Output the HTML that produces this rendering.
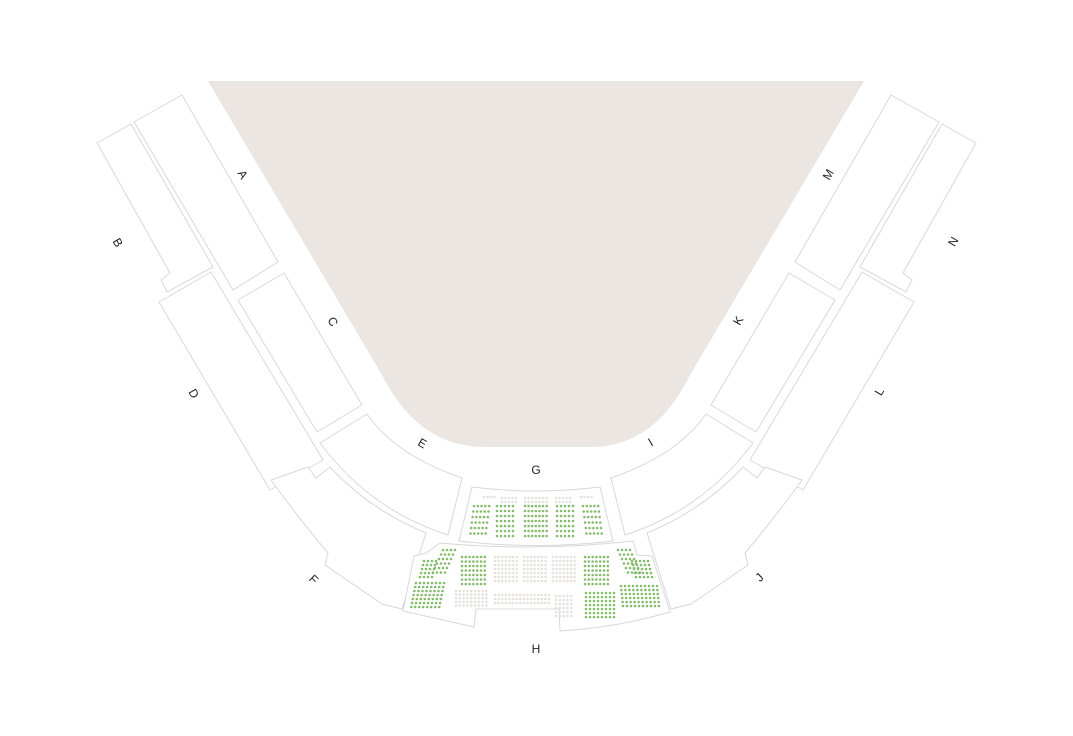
<!DOCTYPE html>
<html><head><meta charset="utf-8"><style>
html,body{margin:0;padding:0;background:#fff;}
svg{display:block}
text{font-family:"Liberation Sans",sans-serif;font-size:12px;fill:#222;text-anchor:middle;dominant-baseline:middle}
.s{fill:#fff;stroke:#d8d8d8;stroke-width:1}
</style></head><body>
<svg id="m" width="1073" height="736" viewBox="0 0 1073 736" xmlns="http://www.w3.org/2000/svg">
<path d="M208,81 L864,81 L690,375 Q655,447 590,447 L485,447 Q418,447 382,375 Z" fill="#ebe6e2"/>
<g id="L">
<polygon class="s" points="134,122 182,95 278,262 233,290"/>
<polygon class="s" points="97,143 131,124 213,267 167,292 161,280 170,273"/>
<polygon class="s" points="238,300 284,273 362,405 317,432"/>
<polygon class="s" points="159,302 211,272 323,460 270,490"/>
<path class="s" d="M320,443 L367,414 Q395,455 462,478 L448,535 Q370,510 320,443 Z"/>
<path class="s" d="M271,480 L308,467 L316,478 L330,467 Q370,510 426,533 L402,609 L382,604 L325,565 L328,553 Q300,520 271,480 Z"/>
</g>
<g transform="translate(1073,0) scale(-1,1)">
<polygon class="s" points="134,122 182,95 278,262 233,290"/>
<polygon class="s" points="97,143 131,124 213,267 167,292 161,280 170,273"/>
<polygon class="s" points="238,300 284,273 362,405 317,432"/>
<polygon class="s" points="159,302 211,272 323,460 270,490"/>
<path class="s" d="M320,443 L367,414 Q395,455 462,478 L448,535 Q370,510 320,443 Z"/>
<path class="s" d="M271,480 L308,467 L316,478 L330,467 Q370,510 426,533 L402,609 L382,604 L325,565 L328,553 Q300,520 271,480 Z"/>
</g>
<path class="s" d="M472,487 Q536,495 600,487 L613,541 Q536,550 459,541 Z"/>
<path class="s" d="M440,543 Q536,552 633,541 L637,555 L652,556 L670,612 Q615,628 560,631 L559,609 L476,609 L474,627 L403,611 L414,556 L426,553 Z"/>
<g id="dots"></g>
<text x="242" y="175" transform="rotate(60 242 175)">A</text>
<text x="117" y="243" transform="rotate(60 117 243)">B</text>
<text x="332" y="322" transform="rotate(60 332 322)">C</text>
<text x="193" y="394" transform="rotate(60 193 394)">D</text>
<text x="422" y="444" transform="rotate(30 422 444)">E</text>
<text x="313" y="580" transform="rotate(45 313 580)">F</text>
<text x="536" y="471">G</text>
<text x="536" y="650">H</text>
<text x="651" y="443" transform="rotate(-30 651 443)">I</text>
<text x="760" y="578" transform="rotate(-45 760 578)">J</text>
<text x="739" y="321" transform="rotate(-60 739 321)">K</text>
<text x="880" y="392" transform="rotate(-60 880 392)">L</text>
<text x="829" y="175" transform="rotate(-60 829 175)">M</text>
<text x="954" y="242" transform="rotate(-60 954 242)">N</text>
</svg>
<script>
var g=document.getElementById('dots'),h='';
function blk(x0,y0,cols,rows,dx,dy,col,sk){for(var r=0;r<rows;r++)for(var c=0;c<cols;c++){var x=x0+c*dx+r*(sk||0),y=y0+r*dy;h+='<circle cx="'+x.toFixed(1)+'" cy="'+y.toFixed(1)+'" r="1.3" fill="'+col+'"/>';}}
var G='#86bb6c',E='#e6e1dc';
// G section
blk(474,506,5,6,3.8,5.5,G,-0.7);blk(497,506,5,7,4,5,G);blk(525,506,7,7,3.6,5,G);blk(557,506,5,7,4,5,G);blk(583,506,5,6,3.8,5.5,G,0.7);
blk(484,497,4,1,3.5,0,E);blk(502,498,5,2,3.5,4,E);blk(525,498,7,2,3.6,4,E);blk(556,498,5,2,3.5,4,E);blk(581,497,4,1,3.5,0,E);
// H upper
blk(443,550,4,6,4,4.5,G,-2);blk(462,557,7,7,3.8,4.5,G);blk(495,557,7,7,3.6,4,E);blk(524,557,7,7,3.6,4,E);blk(553,557,7,7,3.6,4,E);
blk(585,557,7,7,3.8,4.5,G);blk(618,550,4,6,4,4.5,G,2);blk(424,561,4,5,4,4,G,-1);blk(632,561,5,5,4,4,G,1);
// H lower
blk(416,583,8,7,4,4,G,-0.8);blk(456,591,9,5,3.8,3.6,E);blk(495,595,16,3,3.6,4,E);blk(556,596,5,6,3.8,4,E);
blk(586,593,8,7,4,4,G);blk(621,586,10,6,4,4,G,0.4);
g.innerHTML=h;
</script>
</body></html>
